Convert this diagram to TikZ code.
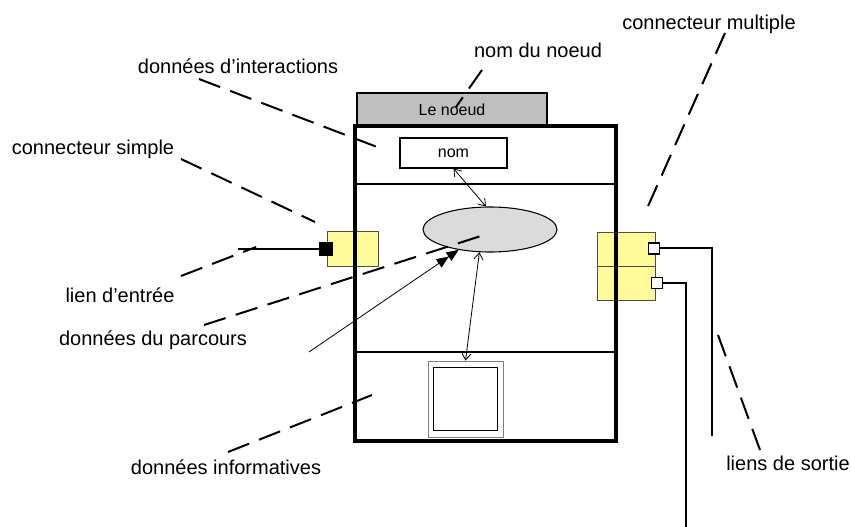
\documentclass[tikz,border=0pt]{standalone}
\usepackage{fontspec}
\setmainfont{Liberation Sans}
\usetikzlibrary{shapes,calc,arrows.meta,positioning}
\tikzset{
  etiquette/.style={inner sep=0pt, font=\fontsize{15}{18}\selectfont},
  tiret/.style={line width=1.5pt, dash pattern=on 17pt off 8pt},
  jaune/.style={draw=black!70, fill=yellow!40, line width=0.6pt, inner sep=0pt},
  prise/.style={draw, line width=1.3pt, inner sep=0pt, minimum size=11*0.75pt},
  lien/.style={line width=1.5pt},
  fleche/.style={line width=0.6pt, {Straight Barb[length=5pt,width=7pt]}-{Straight Barb[length=5pt,width=7pt]}},
}
\begin{document}
\begin{tikzpicture}[x=0.75pt,y=-0.75pt]
            \useasboundingbox (0,0) rectangle (851,527);
            % Draw the title tab of the node
            \node[draw, fill=gray!50, line width=0.8pt, minimum width=190*0.75pt, minimum height=33*0.75pt, font=\fontsize{12}{14}\selectfont] (titre) at (452,109.5) {Le noeud};
            % Draw the connectors under the frame
            \node[jaune, minimum width=51*0.75pt, minimum height=35*0.75pt] (csimple) at (352.5,248.5) {};
            \node[jaune, minimum width=58*0.75pt, minimum height=34*0.75pt] (cmult1) at (626,249) {};
            \node[jaune, minimum width=58*0.75pt, minimum height=34*0.75pt] (cmult2) at (626,283) {};
            % Draw the frame of the node
            \node[draw, line width=2.8pt, minimum width=261*0.75pt, minimum height=315*0.75pt] (corps) at (485.5,283.5) {};
            \draw[line width=0.8pt] (corps.west |- 0,184) -- (corps.east |- 0,184);
            \draw[line width=0.8pt] (corps.west |- 0,352) -- (corps.east |- 0,352);
            % Draw the inner parts
            \node[draw, line width=0.8pt, minimum width=107*0.75pt, minimum height=30*0.75pt, inner sep=0pt, font=\fontsize{12}{14}\selectfont] (nom) at (453.5,153) {nom};
            \node[ellipse, draw, fill=gray!28, line width=0.8pt, minimum width=134*0.75pt, minimum height=45*0.75pt, inner sep=0pt] (parcours) at (490,229.5) {};
            \node[draw=gray, line width=0.6pt, minimum width=75*0.75pt, minimum height=76*0.75pt] (cadre) at (465.5,399) {};
            \node[draw, line width=1.2pt, minimum width=64*0.75pt, minimum height=63*0.75pt] (fiche) at (cadre.center) {};
            % Draw the plugs and the links
            \node[prise, fill=black, minimum size=12*0.75pt] (entree) at (326,249) {};
            \node[prise, fill=white] (sortie1) at (654,248.5) {};
            \node[prise, fill=white] (sortie2) at (657,283) {};
            \coordinate (debut) at (238,249);
            \coordinate (fin1) at (712,436);
            \coordinate (fin2) at (686,527);
            \draw[lien] (debut) -- (entree.west);
            \draw[lien] (sortie1.east) -| (fin1);
            \draw[lien] (sortie2.east) -| (fin2);
            % Draw the arrows
            \draw[fleche] (nom.south) -- (parcours.100);
            \draw[fleche] (parcours.-115) -- (cadre.north);
            \coordinate (origine) at (309,352);
            \draw[line width=0.6pt, -{Triangle[length=9pt,width=7.5pt]Triangle[length=9pt,width=7.5pt]}] (origine) -- (parcours.-147);
            % Label the parts
            \node[etiquette] (lmult) at (709,24) {connecteur multiple};
            \node[etiquette] (lnom) at (538,50) {nom du noeud};
            \node[etiquette] (linter) at (238,66) {données d’interactions};
            \node[etiquette] (lsimple) at (93,149) {connecteur simple};
            \node[etiquette] (lentree) at (120,295) {lien d’entrée};
            \node[etiquette] (lparcours) at (153,340) {données du parcours};
            \node[etiquette] (linfo) at (226,467) {données informatives};
            \node[etiquette] (lsortie) at (788,463) {liens de sortie};
            % Draw the dashed leaders
            \coordinate (a1) at (725,33);  \coordinate (b1) at (645,213);
            \coordinate (a2) at (482,70);  \coordinate (b2) at (456,107);
            \coordinate (a3) at (199,79);  \coordinate (b3) at (385,150);
            \coordinate (a4) at (181,159); \coordinate (b4) at (315,222);
            \coordinate (a5) at (181,276); \coordinate (b5) at (256,247);
            \coordinate (a6) at (204,325); \coordinate (b6) at (484,235);
            \coordinate (a7) at (228,452); \coordinate (b7) at (372,395);
            \coordinate (a8) at (718,335); \coordinate (b8) at (760,450);
            \foreach \i in {1,...,8}
              \draw[tiret] (a\i) -- (b\i);
          \end{tikzpicture}
\end{document}
